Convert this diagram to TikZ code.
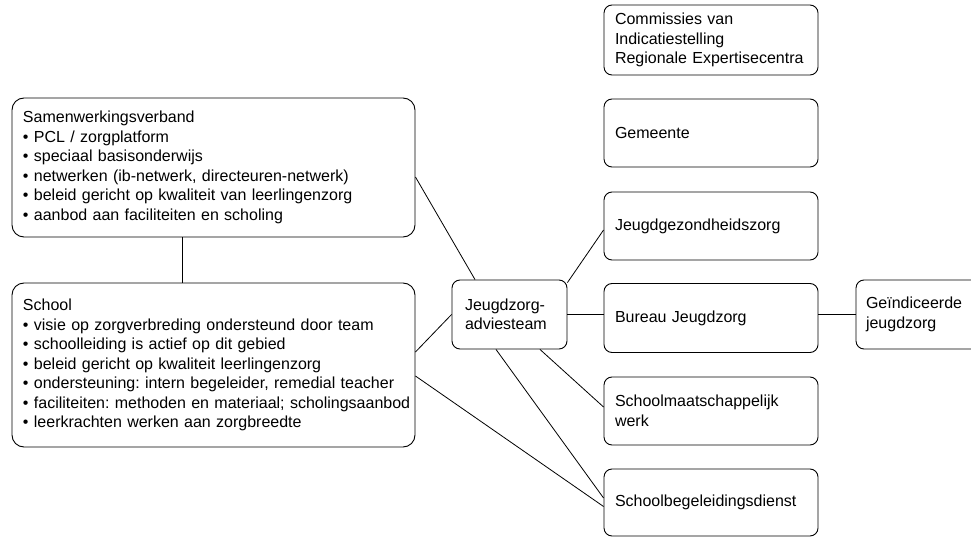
\documentclass[tikz,border=0pt]{standalone}
\usepackage{fontspec}
\setmainfont{Liberation Sans}
\hfuzz=100pt
\frenchspacing
\begin{document}
\begin{tikzpicture}[x=1pt,y=-1pt,
  box/.style={draw, rounded corners=8pt, line width=0.9pt, align=left,
    inner xsep=11pt, inner ysep=0pt, font=\fontsize{16}{19.5}\selectfont\frenchspacing},
  bigbox/.style={box, rounded corners=12pt},
  link/.style={line width=0.8pt}]
\clip (0,0) rectangle (971,537);
\node[bigbox, text width=381pt, minimum height=139pt] (sv) at (213.5,167.5)
  {Samenwerkingsverband\\
   \mbox{• PCL / zorgplatform}\\
   \mbox{• speciaal basisonderwijs}\\
   \mbox{• netwerken (ib-netwerk, directeuren-netwerk)}\\
   \mbox{• beleid gericht op kwaliteit van leerlingenzorg}\\
   \mbox{• aanbod aan faciliteiten en scholing}};
\node[bigbox, text width=381pt, minimum height=164pt] (school) at (213.5,365)
  {School\\
   \mbox{• visie op zorgverbreding ondersteund door team}\\
   \mbox{• schoolleiding is actief op dit gebied}\\
   \mbox{• beleid gericht op kwaliteit leerlingenzorg}\\
   \mbox{• ondersteuning: intern begeleider, remedial teacher}\\
   \mbox{• faciliteiten: methoden en materiaal; scholingsaanbod}\\
   \mbox{• leerkrachten werken aan zorgbreedte}};
\node[box, inner xsep=13pt, text width=89pt, minimum height=69pt] (jat) at (509.5,314.5)
  {\mbox{Jeugdzorg-}\\\mbox{adviesteam}};
\node[box, text width=192pt, minimum height=70pt] (com) at (711,40)
  {Commissies van\\Indicatiestelling\\\mbox{Regionale Expertisecentra}};
\node[box, text width=192pt, minimum height=68pt] (gem) at (711,133) {Gemeente};
\node[box, text width=192pt, minimum height=68pt] (jgz) at (711,226) {Jeugdgezondheidszorg};
\node[box, text width=192pt, minimum height=69pt] (bj) at (711,318) {Bureau Jeugdzorg};
\node[box, text width=192pt, minimum height=68pt] (smw) at (711,411) {Schoolmaatschappelijk\\werk};
\node[box, text width=192pt, minimum height=67pt] (sbd) at (711,502.5) {Schoolbegeleidingsdienst};
\node[box, inner xsep=10pt, text width=109pt, minimum height=69pt] (gi) at (920.5,314.5)
  {\mbox{Geïndiceerde}\\jeugdzorg};
\draw[link] ([xshift=-31.5pt]sv.south) -- ([xshift=-31.5pt]sv.south |- school.north);
\draw[link] ([yshift=-9.5pt]sv.east) -- ([xshift=-34.5pt]jat.north);
\draw[link] ([yshift=13pt]school.east) -- (jat.west);
\draw[link] ([yshift=-11pt]school.east) -- ([yshift=-4pt]sbd.west);
\draw[link] ([xshift=-13.5pt]jat.south) -- ([yshift=4.5pt]sbd.west);
\draw[link] ([xshift=30.5pt]jat.south) -- ([yshift=4pt]smw.west);
\draw[link] (jat.east) -- (jat.east -| bj.west);
\draw[link] ([yshift=-3pt]jat.north east) -- ([yshift=-4pt]jgz.west);
\draw[link] (gi.west -| bj.east) -- (gi.west);
\end{tikzpicture}
\end{document}
